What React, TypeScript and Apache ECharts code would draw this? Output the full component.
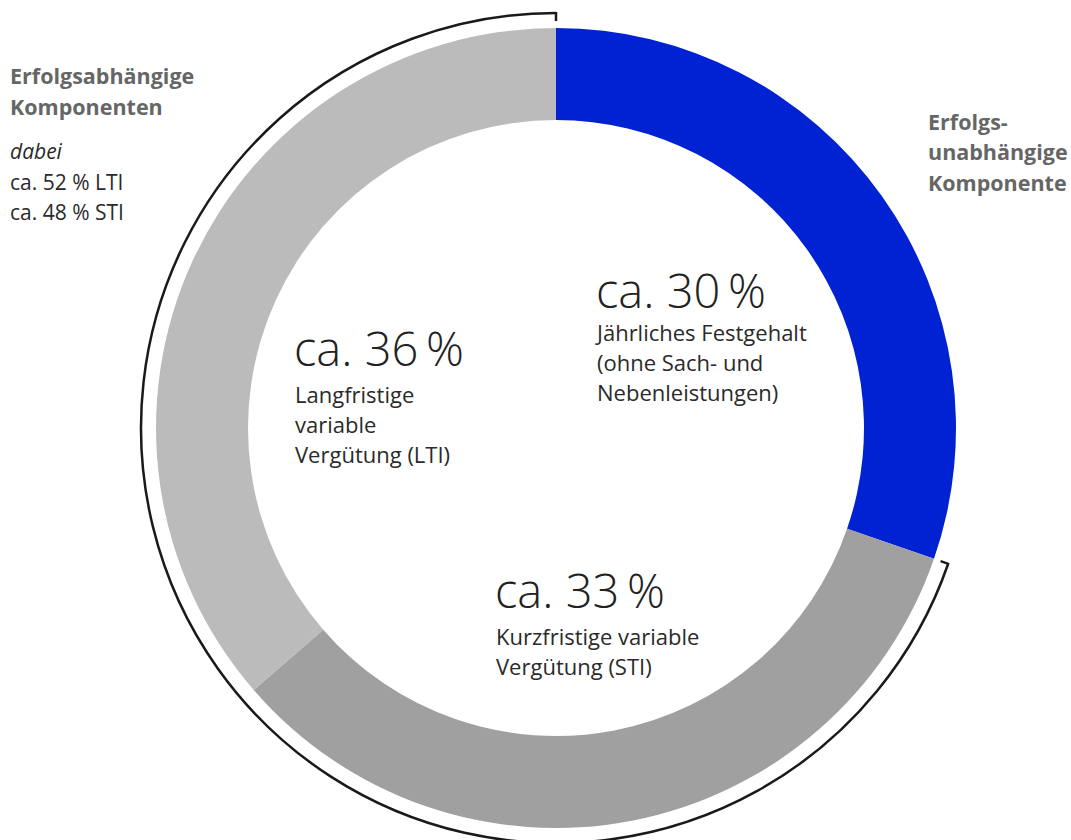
import React, { useEffect, useRef } from 'react';
import * as echarts from 'echarts';

const categories = ['Jährliches Festgehalt', 'Kurzfristige variable Vergütung (STI)', 'Langfristige variable Vergütung (LTI)'];
const values = [30, 33, 36];
const colors = ['#0022D2', '#A0A0A0', '#BBBBBB'];
const valueLabels = ['ca. 30\u2009%', 'ca. 33\u2009%', 'ca. 36\u2009%'];
const descLabels = [
  'Jährliches Festgehalt\n(ohne Sach- und\nNebenleistungen)',
  'Kurzfristige variable\nVergütung (STI)',
  'Langfristige\nvariable\nVergütung (LTI)',
];
const leftTitle = ['Erfolgsabhängige', 'Komponenten'];
const leftNoteHead = 'dabei';
const leftNote = ['ca. 52 % LTI', 'ca. 48 % STI'];
const rightTitle = ['Erfolgs-', 'unabhängige', 'Komponente'];

// layout
const CX = 556;
const CY = 428;
const R_IN = 308;
const R_OUT = 400;
const R_BRACKET = 415;
const FONT = '"Open Sans", "Noto Sans", sans-serif';
const labelPos = [
  { x: 596, y: 290, dy: 317 },
  { x: 495, y: 590, dy: 621 },
  { x: 294, y: 348, dy: 379 },
];

export default function App() {
  const ref = useRef<HTMLDivElement>(null);
  useEffect(() => {
    document.body.style.margin = '0';
    const chart = echarts.init(ref.current!, null, { renderer: 'svg' });
    const total = values.reduce((a, b) => a + b, 0);
    const blueEndDeg = (values[0] / total) * 360 - 90;
    const endRad = (blueEndDeg * Math.PI) / 180;
    const startRad = -Math.PI / 2;
    const tick = 8;
    const pt = (a: number, r: number) => [CX + r * Math.cos(a), CY + r * Math.sin(a)];

    const graphics: any[] = [];
    graphics.push({
      type: 'arc',
      shape: { cx: CX, cy: CY, r: R_BRACKET, startAngle: startRad, endAngle: endRad, clockwise: false },
      style: { stroke: '#1a1a1a', lineWidth: 2.5, fill: null },
    });
    const [sx1, sy1] = pt(startRad, R_BRACKET + 1);
    const [sx2, sy2] = pt(startRad, R_BRACKET - tick);
    graphics.push({ type: 'line', shape: { x1: sx1, y1: sy1, x2: sx2, y2: sy2 }, style: { stroke: '#1a1a1a', lineWidth: 2.5 } });
    const [ex1, ey1] = pt(endRad, R_BRACKET + 1);
    const [ex2, ey2] = pt(endRad, R_BRACKET - tick);
    graphics.push({ type: 'line', shape: { x1: ex1, y1: ey1, x2: ex2, y2: ey2 }, style: { stroke: '#1a1a1a', lineWidth: 2.5 } });

    values.forEach((_, i) => {
      const p = labelPos[i];
      graphics.push({
        type: 'text', x: p.x, y: p.y,
        style: { text: valueLabels[i], font: `300 47px ${FONT}`, fill: '#222', lineHeight: 38, textAlign: 'left', textVerticalAlign: 'middle' },
      });
      graphics.push({
        type: 'text', x: p.x + 1, y: p.dy,
        style: { text: descLabels[i], font: `22px ${FONT}`, fill: '#2a2a2a', lineHeight: 30, textAlign: 'left', textVerticalAlign: 'top' },
      });
    });

    graphics.push({
      type: 'text', x: 10, y: 60,
      style: { text: leftTitle.join('\n'), font: `bold 21.5px ${FONT}`, fill: '#666', lineHeight: 31, textAlign: 'left', textVerticalAlign: 'top' },
    });
    graphics.push({
      type: 'text', x: 10, y: 136,
      style: { text: leftNoteHead, font: `italic 21px ${FONT}`, fill: '#2a2a2a', lineHeight: 30, textAlign: 'left', textVerticalAlign: 'top' },
    });
    graphics.push({
      type: 'text', x: 10, y: 167,
      style: { text: leftNote.join('\n'), font: `21px ${FONT}`, fill: '#2a2a2a', lineHeight: 30, textAlign: 'left', textVerticalAlign: 'top' },
    });
    graphics.push({
      type: 'text', x: 928, y: 106,
      style: { text: rightTitle.join('\n'), font: `bold 21.5px ${FONT}`, fill: '#666', lineHeight: 30.5, textAlign: 'left', textVerticalAlign: 'top' },
    });

    chart.setOption({
      animation: false,
      backgroundColor: '#fff',
      series: [
        {
          type: 'pie',
          center: [CX, CY],
          radius: [R_IN, R_OUT],
          startAngle: 90,
          clockwise: true,
          label: { show: false },
          labelLine: { show: false },
          emphasis: { disabled: true },
          itemStyle: { borderWidth: 0 },
          data: values.map((v, i) => ({ name: categories[i], value: v, itemStyle: { color: colors[i] } })),
        },
      ],
      graphic: graphics,
    });
    return () => chart.dispose();
  }, []);
  return <div ref={ref} style={{ width: 1071, height: 840 }} />;
}
